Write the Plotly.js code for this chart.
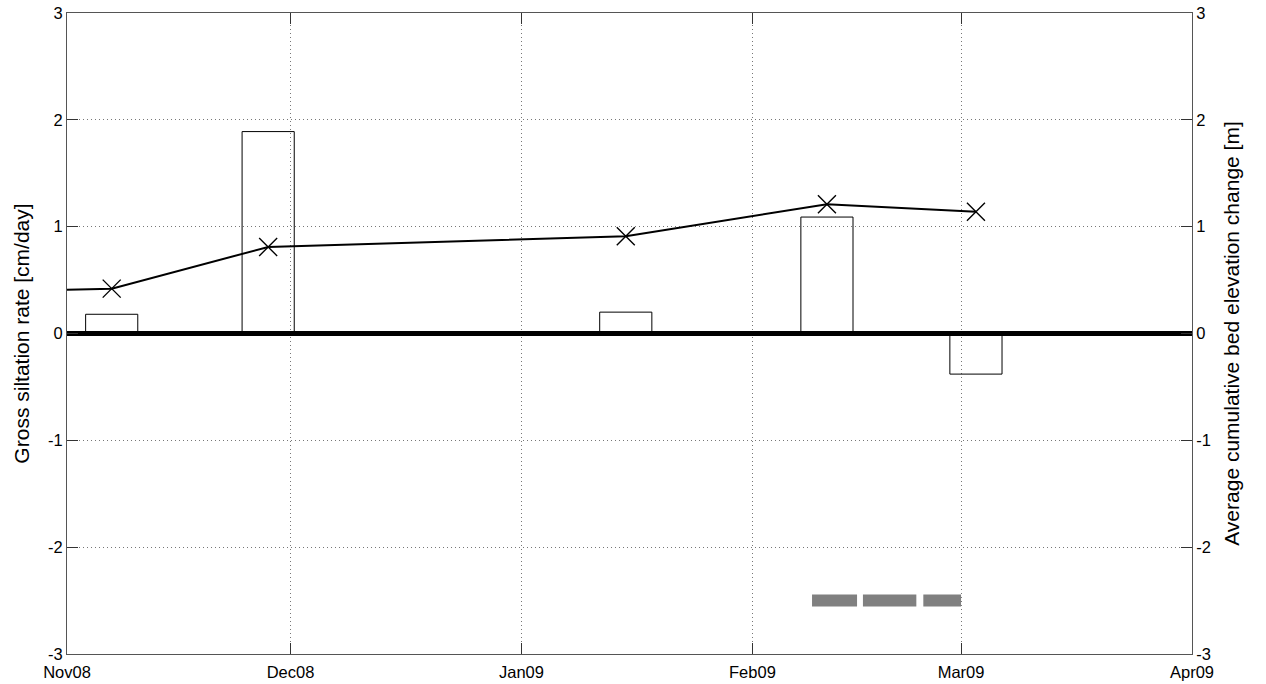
<!DOCTYPE html>
<html>
<head>
<meta charset="utf-8">
<script src="https://cdn.plot.ly/plotly-3.0.1.min.js"></script>
<style>html,body{margin:0;padding:0;background:#fff;}#chart{width:1266px;height:684px;}</style>
</head>
<body>
<div id="chart"></div>
<script>
// Bar data: gross siltation rate [cm/day]
const barDates = ["2008-11-07", "2008-11-28", "2009-01-15", "2009-02-11", "2009-03-03"];
const barValues = [0.18, 1.89, 0.20, 1.09, -0.38];

// Line data: average cumulative bed elevation change [m]
const lineDates = ["2008-11-01", "2008-11-07", "2008-11-28", "2009-01-15", "2009-02-11", "2009-03-03"];
const lineValues = [0.41, 0.42, 0.81, 0.91, 1.21, 1.14];
const markerDates = ["2008-11-07", "2008-11-28", "2009-01-15", "2009-02-11", "2009-03-03"];
const markerValues = [0.42, 0.81, 0.91, 1.21, 1.14];

// Grey period bar segments (null separates segments)
const periodDates = ["2009-02-09 00:00", "2009-02-15 01:00", null,
                     "2009-02-15 20:00", "2009-02-23 00:00", null,
                     "2009-02-23 22:30", "2009-03-01 00:00"];
const periodValues = [-2.5, -2.5, null, -2.5, -2.5, null, -2.5, -2.5];

const xRange = ["2008-11-01", "2009-04-01"];
const yTicks = [-3, -2, -1, 0, 1, 2, 3];
const barWidthDays = 7;

const FONT = "Liberation Sans, Arial, sans-serif";

const traces = [
  {
    type: "bar", x: barDates, y: barValues,
    width: barWidthDays * 86400000,
    marker: {color: "rgba(0,0,0,0)", line: {color: "#000", width: 1}},
    xaxis: "x", yaxis: "y", hoverinfo: "skip"
  },
  {
    type: "scatter", mode: "lines", x: periodDates, y: periodValues,
    line: {color: "#808080", width: 12}, connectgaps: false,
    xaxis: "x", yaxis: "y", hoverinfo: "skip"
  },
  {
    type: "scatter", mode: "lines", x: lineDates, y: lineValues,
    line: {color: "#000", width: 2},
    xaxis: "x", yaxis: "y2", hoverinfo: "skip"
  },
  {
    type: "scatter", mode: "markers", x: markerDates, y: markerValues,
    marker: {symbol: "x-thin-open", size: 18, color: "#000", line: {color: "#000", width: 1.4}},
    xaxis: "x", yaxis: "y2", hoverinfo: "skip"
  }
];

const gridStyle = {showgrid: true, gridcolor: "#777", griddash: "1px,3px", gridwidth: 1};

const layout = {
  width: 1266, height: 684,
  margin: {l: 67, r: 74, t: 13, b: 30},
  paper_bgcolor: "#fff", plot_bgcolor: "#fff",
  showlegend: false,
  font: {family: FONT, size: 16.5, color: "#000"},
  xaxis: Object.assign({
    type: "date", range: xRange,
    tick0: "2008-11-01", dtick: "M1", tickformat: "%b%y",
    ticks: "inside", ticklen: 11, tickcolor: "#333", tickwidth: 1,
    showline: true, linecolor: "#555", linewidth: 1, mirror: "ticks",
    zeroline: false, ticklabelstandoff: 3,
    tickfont: {family: FONT, size: 16.5, color: "#000"}
  }, gridStyle),
  yaxis: Object.assign({
    range: [-3, 3], tickvals: yTicks, ticktext: yTicks.map(String),
    ticks: "inside", ticklen: 11, tickcolor: "#333", tickwidth: 1,
    showline: true, linecolor: "#555", linewidth: 1, mirror: "ticks",
    zeroline: true, zerolinecolor: "#000", zerolinewidth: 5,
    tickfont: {family: FONT, size: 16.5, color: "#000"},
    title: {text: "Gross siltation rate [cm/day]", font: {family: FONT, size: 21, color: "#000"}, standoff: 12},
    automargin: false
  }, gridStyle),
  yaxis2: {
    overlaying: "y", side: "right", range: [-3, 3],
    tickvals: yTicks, ticktext: yTicks.map(String),
    ticks: "inside", ticklen: 11, tickcolor: "#333", tickwidth: 1,
    showline: true, linecolor: "#555", linewidth: 1,
    showgrid: false, zeroline: false,
    tickfont: {family: FONT, size: 16.5, color: "#000"},
    title: {text: "Average cumulative bed elevation change [m]", font: {family: FONT, size: 21, color: "#000"}, standoff: 14},
    automargin: false
  }
};

Plotly.newPlot("chart", traces, layout, {displayModeBar: false, staticPlot: true});
</script>
</body>
</html>
